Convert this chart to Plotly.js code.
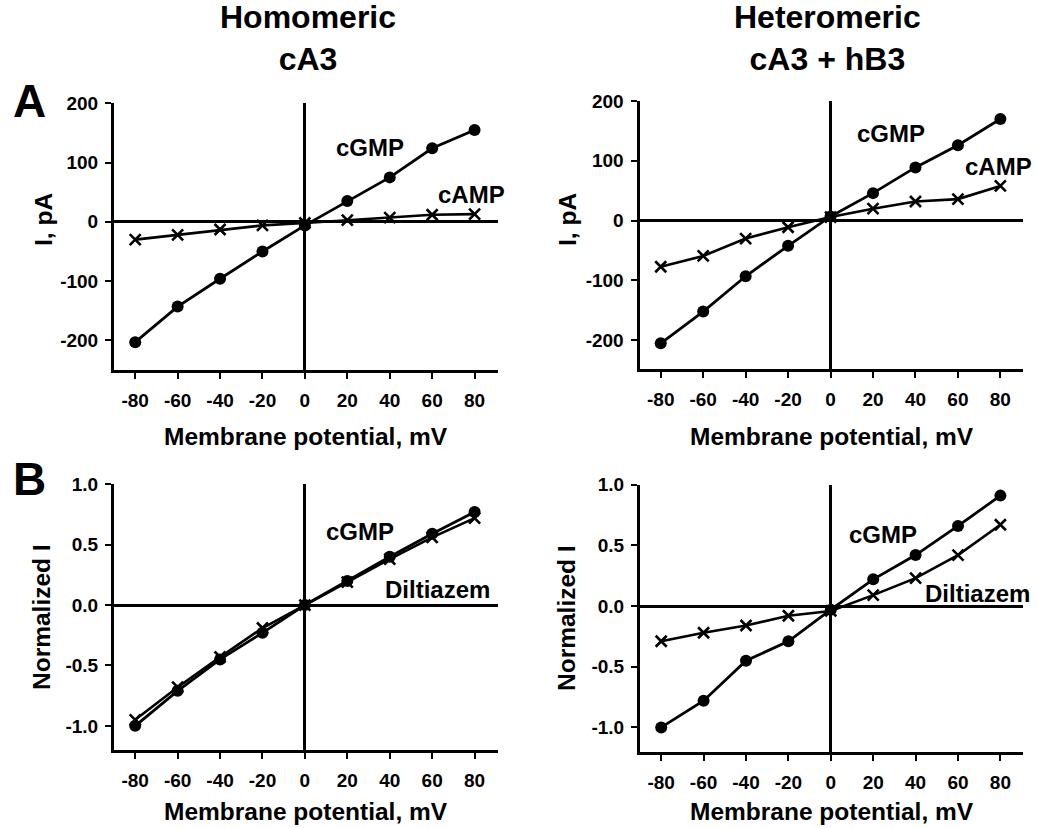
<!DOCTYPE html>
<html>
<head>
<meta charset="utf-8">
<script src="https://cdn.plot.ly/plotly-3.0.1.min.js"></script>
<style>
  html, body { margin: 0; padding: 0; background: #fff; }
  #chart { width: 1037px; height: 828px; }
</style>
</head>
<body>
<div id="chart"></div>
<script>
// ---- data ----
const voltage = [-80, -60, -40, -20, 0, 20, 40, 60, 80];

const homoCurrent_cGMP = [-203, -143, -96, -50, -6, 35, 75, 124, 155];
const homoCurrent_cAMP = [-30, -22, -13, -6, -2, 3, 7, 12, 13];
const heteroCurrent_cGMP = [-205, -152, -93, -42, 7, 46, 89, 126, 170];
const heteroCurrent_cAMP = [-77, -59, -30, -11, 6, 20, 32, 36, 58];

const homoNorm_cGMP = [-1.0, -0.71, -0.45, -0.23, 0.0, 0.20, 0.40, 0.59, 0.77];
const homoNorm_dilt = [-0.95, -0.68, -0.43, -0.19, 0.0, 0.19, 0.38, 0.56, 0.72];
const heteroNorm_cGMP = [-1.0, -0.78, -0.45, -0.29, -0.03, 0.22, 0.42, 0.66, 0.91];
const heteroNorm_dilt = [-0.29, -0.22, -0.16, -0.08, -0.04, 0.09, 0.23, 0.42, 0.67];

const xTickVals = [-80, -60, -40, -20, 0, 20, 40, 60, 80];
const xTickText = ['-80', '-60', '-40', '-20', '0', '20', '40', '60', '80'];
const yCurTickVals = [200, 100, 0, -100, -200];
const yCurTickText = ['200', '100', '0', '-100', '-200'];
const yNormTickVals = [1.0, 0.5, 0.0, -0.5, -1.0];
const yNormTickText = ['1.0', '0.5', '0.0', '-0.5', '-1.0'];

const columnTitles = ['Homomeric<br>cA3', 'Heteromeric<br>cA3 + hB3'];
const panelLetters = ['A', 'B'];
const xTitle = 'Membrane potential, mV';
const yTitles = ['I, pA', 'Normalized I'];

// ---- styling ----
const W = 1037, H = 828;
const FONT = 'Liberation Sans, Arial, Helvetica, sans-serif';
const px = v => v / W;
const py = v => 1 - v / H;

function circleTrace(y, xa, ya) {
  return {x: voltage, y: y, xaxis: xa, yaxis: ya, type: 'scatter', mode: 'lines+markers',
    line: {color: '#000', width: 2.8},
    marker: {symbol: 'circle', size: 12, color: '#000'},
    showlegend: false, hoverinfo: 'x+y'};
}
function crossTrace(y, xa, ya) {
  return {x: voltage, y: y, xaxis: xa, yaxis: ya, type: 'scatter', mode: 'lines+markers',
    line: {color: '#000', width: 2.6},
    marker: {symbol: 'x-thin', size: 11, color: '#000', line: {color: '#000', width: 2.6}},
    showlegend: false, hoverinfo: 'x+y'};
}

const data = [
  circleTrace(homoCurrent_cGMP, 'x', 'y'),
  crossTrace(homoCurrent_cAMP, 'x', 'y'),
  circleTrace(heteroCurrent_cGMP, 'x2', 'y2'),
  crossTrace(heteroCurrent_cAMP, 'x2', 'y2'),
  crossTrace(homoNorm_dilt, 'x3', 'y3'),
  circleTrace(homoNorm_cGMP, 'x3', 'y3'),
  crossTrace(heteroNorm_dilt, 'x4', 'y4'),
  circleTrace(heteroNorm_cGMP, 'x4', 'y4')
];

const tickFont = {family: FONT, size: 19, color: '#000', weight: 'bold'};

function xAxis(domain, anchor) {
  return {domain: domain, anchor: anchor, range: [-90, 90.8],
    tickvals: xTickVals, ticktext: xTickText, tickfont: tickFont,
    showline: true, linecolor: '#000', linewidth: 3, mirror: false,
    ticks: 'outside', ticklen: 6, tickwidth: 2, tickcolor: '#000',
    ticklabelstandoff: 5,
    showgrid: false, zeroline: true, zerolinecolor: '#000', zerolinewidth: 3,
    fixedrange: true};
}
function yAxis(domain, anchor, range, vals, text) {
  return {domain: domain, anchor: anchor, range: range,
    tickvals: vals, ticktext: text, tickfont: tickFont,
    showline: true, linecolor: '#000', linewidth: 3, mirror: false,
    ticks: 'outside', ticklen: 6, tickwidth: 2, tickcolor: '#000',
    ticklabelstandoff: 3,
    showgrid: false, zeroline: true, zerolinecolor: '#000', zerolinewidth: 3,
    fixedrange: true};
}

const leftX = [px(114), px(497.5)];
const rightX = [px(639.5), px(1023.3)];

function ann(text, x, y, size, extra) {
  return Object.assign({text: '<b>' + text + '</b>', xref: 'paper', yref: 'paper',
    x: px(x), y: py(y), xanchor: 'center', yanchor: 'middle', showarrow: false,
    font: {family: FONT, size: size, color: '#000'}}, extra || {});
}

const annotations = [
  ann(columnTitles[0], 308, 38, 32),
  ann(columnTitles[1], 827, 38, 32),
  ann(panelLetters[0], 29, 101, 46),
  ann(panelLetters[1], 29, 479, 46),
  ann(xTitle, 306, 436, 24.5),
  ann(xTitle, 832, 436, 24.5),
  ann(xTitle, 306, 811, 24.5),
  ann(xTitle, 832, 811, 24.5),
  ann(yTitles[0], 43, 220, 24.5, {textangle: -90}),
  ann(yTitles[0], 567, 220, 24.5, {textangle: -90}),
  ann(yTitles[1], 41, 617, 24.5, {textangle: -90}),
  ann(yTitles[1], 566, 618, 24.5, {textangle: -90}),
  ann('cGMP', 370, 147, 24),
  ann('cAMP', 471, 194, 24),
  ann('cGMP', 891, 133, 24),
  ann('cAMP', 998, 166, 24),
  ann('cGMP', 360, 531, 24),
  ann('Diltiazem', 437, 589, 24),
  ann('cGMP', 883, 534, 24),
  ann('Diltiazem', 977, 593, 24)
];

const layout = {
  width: W, height: H,
  margin: {l: 0, r: 0, t: 0, b: 0},
  paper_bgcolor: '#fff', plot_bgcolor: '#fff',
  font: {family: FONT, color: '#000'},
  showlegend: false,
  xaxis: xAxis(leftX, 'y'),
  yaxis: yAxis([py(370), py(102.7)], 'x', [-250, 201], yCurTickVals, yCurTickText),
  xaxis2: xAxis(rightX, 'y2'),
  yaxis2: yAxis([py(369), py(101)], 'x2', [-248, 200], yCurTickVals, yCurTickText),
  xaxis3: xAxis(leftX, 'y3'),
  yaxis3: yAxis([py(750), py(484.3)], 'x3', [-1.2, 1.0], yNormTickVals, yNormTickText),
  xaxis4: xAxis([px(640), px(1023.3)], 'y4'),
  yaxis4: yAxis([py(751.7), py(484.7)], 'x4', [-1.2, 1.0], yNormTickVals, yNormTickText),
  annotations: annotations
};

Plotly.newPlot('chart', data, layout, {displayModeBar: false, staticPlot: true});
</script>
</body>
</html>
